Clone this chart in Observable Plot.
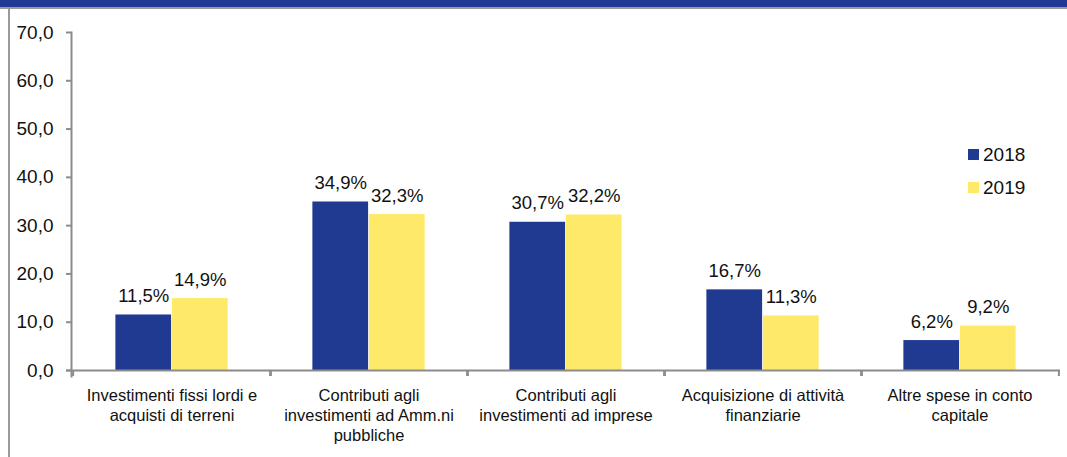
<!DOCTYPE html>
<html>
<head>
<meta charset="utf-8">
<script src="https://cdn.jsdelivr.net/npm/d3@7"></script>
<script src="https://cdn.jsdelivr.net/npm/@observablehq/plot@0.6"></script>
<style>
  html, body { margin: 0; padding: 0; background: #fff; }
  body { width: 1067px; height: 457px; position: relative; overflow: hidden; font-family: "Liberation Sans", Arial, sans-serif; }
  #chart { position: absolute; left: 0; top: 0; }
  #band { position: absolute; left: 0; top: 0; width: 1067px; height: 7px; background: #1f3a93; border-bottom: 2px solid #9a9a9a; }
  #leftline { position: absolute; left: 8px; top: 9px; width: 2px; height: 448px; background: #9a9a9a; }
  .legrow { position: absolute; left: 968px; height: 20px; line-height: 20px; font-size: 19px; color: #111; white-space: nowrap; }
  .legrow .sw { position: absolute; left: 0; top: 4.5px; width: 11px; height: 11px; }
  .legrow .lb { position: absolute; left: 15px; top: 0; }
</style>
</head>
<body>
<div id="chart"></div>
<div id="band"></div>
<div id="leftline"></div>
<div id="legend"></div>
<script>
// ---- data ----
const categories = [
  "Investimenti fissi lordi e\nacquisti di terreni",
  "Contributi agli\ninvestimenti ad Amm.ni\npubbliche",
  "Contributi agli\ninvestimenti ad imprese",
  "Acquisizione di attività\nfinanziarie",
  "Altre spese in conto\ncapitale"
];
const years = ["2018", "2019"];
const values2018 = [11.5, 34.9, 30.7, 16.7, 6.2];
const values2019 = [14.9, 32.3, 32.2, 11.3, 9.2];
const yTicks = [0, 10, 20, 30, 40, 50, 60, 70];
const colors = ["#203a91", "#ffe969"];

// ---- layout ----
const W = 1067, H = 457;
const mL = 71, mR = 7, mT = 32, mB = 87;
const bandW = (W - mL - mR) / categories.length;
const barW = bandW / 3.5;
const outer = (bandW - 2 * barW) / 2;

const rows = [];
categories.forEach((c, i) => {
  rows.push({cat: c, year: years[0], v: values2018[i]});
  rows.push({cat: c, year: years[1], v: values2019[i]});
});
const r18 = rows.filter(d => d.year === years[0]);
const r19 = rows.filter(d => d.year === years[1]);

const comma1 = d => d3.format(".1f")(d).replace(".", ",");
const gray = "#8c8c8c";

const chart = Plot.plot({
  width: W,
  height: H,
  marginLeft: mL,
  marginRight: mR,
  marginTop: mT,
  marginBottom: mB,
  style: {fontFamily: "'Liberation Sans', Arial, sans-serif", color: "#111", background: "transparent"},
  x: {type: "band", domain: categories, padding: 0, axis: null},
  y: {domain: [0, 70], axis: null},
  marks: [
    Plot.barY(r18, {x: "cat", y: "v", fill: colors[0], insetLeft: outer, insetRight: outer + barW}),
    Plot.barY(r19, {x: "cat", y: "v", fill: colors[1], insetLeft: outer + barW, insetRight: outer}),
    Plot.text(r18, {x: "cat", y: "v", text: d => comma1(d.v) + "%", dx: -barW / 2, dy: -13, lineAnchor: "bottom", fontSize: 18.5, fill: "#111"}),
    Plot.text(r19, {x: "cat", y: "v", text: d => comma1(d.v) + "%", dx: barW / 2, dy: -13, lineAnchor: "bottom", fontSize: 18.5, fill: "#111"}),
    // y axis
    Plot.axisY({ticks: yTicks, tickSize: 5, tickPadding: 13, tickFormat: comma1, fontSize: 19, stroke: gray, strokeWidth: 2, fill: "#111", label: null}),
    Plot.frame({anchor: "left", stroke: gray, strokeWidth: 2, insetBottom: -6}),
    Plot.ruleY([0], {stroke: gray, strokeWidth: 2, insetLeft: -5}),
    // category boundary ticks
    Plot.axisX({tickSize: 6, tickFormat: () => "", dx: -bandW / 2, stroke: gray, strokeWidth: 2, label: null}),
    Plot.axisX({tickSize: 6, tickFormat: () => "", dx: bandW / 2, stroke: gray, strokeWidth: 2, label: null}),
    // category labels
    Plot.axisX({tickSize: 0, tickPadding: 16, fontSize: 16.5, lineHeight: 1.21, fill: "#111", label: null})
  ]
});
document.getElementById("chart").appendChild(chart);

// legend
const leg = document.getElementById("legend");
const legTops = [144.5, 177.5];
years.forEach((y, i) => {
  const row = document.createElement("div");
  row.className = "legrow";
  row.style.top = legTops[i] + "px";
  row.innerHTML = `<span class="sw" style="background:${colors[i]}"></span><span class="lb">${y}</span>`;
  leg.appendChild(row);
});
</script>
</body>
</html>
